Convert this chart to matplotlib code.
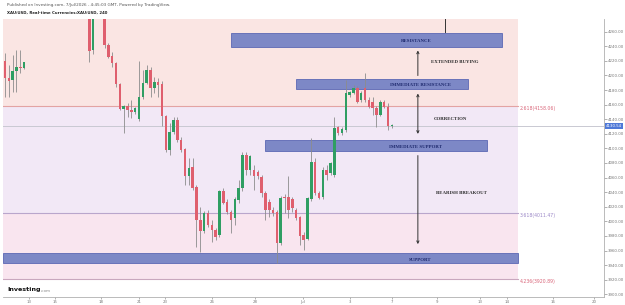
import matplotlib.pyplot as plt
from matplotlib.patches import Rectangle

# XAU/USD 4h candles (x = bar number on the chart)
bar_idx = [0, 1, 2, 3, 4, 5, 22, 23] + list(range(26, 102))
opens = [4220, 4197, 4194, 4206, 4212, 4210, 4295, 4235,
         4290, 4242, 4227, 4217, 4188, 4154, 4158, 4153, 4150, 4140,
         4170, 4190, 4207, 4183, 4191, 4188, 4144, 4098, 4122, 4139,
         4112, 4099, 4062, 4074, 4047, 4002, 3987, 4011, 3995, 3988,
         3981, 4042, 4027, 4013, 4005, 4029, 4046, 4091, 4070, 4070,
         4068, 4061, 4039, 4027, 4016, 4013, 3970, 4033, 4033, 4031,
         4016, 4006, 3982, 3976, 4030, 4081, 4039, 4033, 4070, 4066,
         4063, 4129, 4121, 4125, 4173, 4176, 4183, 4166, 4183, 4166,
         4163, 4155, 4146, 4164, 4157, 4131]
highs = [4231, 4214, 4228, 4235, 4235, 4219, 4300, 4300,
         4295, 4244, 4232, 4219, 4190, 4160, 4162, 4166, 4157, 4220,
         4207, 4214, 4212, 4198, 4196, 4192, 4146, 4135, 4143, 4143,
         4116, 4101, 4087, 4087, 4050, 4020, 4014, 4016, 4002, 3991,
         4043, 4046, 4030, 4016, 4033, 4057, 4095, 4095, 4091, 4077,
         4070, 4064, 4041, 4030, 4020, 4016, 4035, 4037, 4062, 4034,
         4019, 4008, 3985, 4033, 4114, 4087, 4041, 4075, 4077, 4082,
         4143, 4131, 4130, 4194, 4179, 4187, 4186, 4178, 4203, 4170,
         4170, 4158, 4166, 4166, 4162, 4134]
lows = [4170, 4170, 4177, 4177, 4203, 4209, 4218, 4230,
        4238, 4224, 4212, 4184, 4153, 4121, 4143, 4142, 4147, 4138,
        4168, 4188, 4170, 4176, 4170, 4131, 4095, 4091, 4120, 4109,
        4095, 4050, 4050, 4043, 3965, 3958, 3984, 3992, 3972, 3975,
        3978, 4024, 4010, 3984, 3995, 4025, 4042, 4063, 4063, 4043,
        4058, 4033, 4002, 4006, 4008, 3943, 3968, 4012, 4005, 4013,
        4002, 3968, 3961, 3974, 4028, 4036, 4030, 4030, 4057, 4064,
        4061, 4119, 4119, 4123, 4170, 4174, 4162, 4164, 4164, 4155,
        4146, 4129, 4144, 4155, 4125, 4128]
closes = [4197, 4192, 4206, 4212, 4210, 4218, 4233, 4290,
          4242, 4225, 4217, 4188, 4154, 4158, 4153, 4150, 4156, 4170,
          4190, 4207, 4183, 4191, 4187, 4144, 4098, 4122, 4139, 4112,
          4098, 4062, 4073, 4046, 4002, 3987, 4011, 3995, 3988, 3979,
          4041, 4025, 4013, 4002, 4031, 4046, 4091, 4070, 4089, 4062,
          4062, 4039, 4016, 4016, 4012, 3970, 4032, 4032, 4016, 4019,
          4005, 3980, 3975, 4032, 4081, 4039, 4032, 4070, 4064, 4080,
          4128, 4121, 4127, 4176, 4177, 4183, 4164, 4176, 4166, 4157,
          4155, 4146, 4164, 4157, 4131, 4131]

last_price = 4130.54

# fibonacci levels
fib_ratios = ['2.618', '3.618', '4.236']
fib_prices = [4158.06, 4011.47, 3920.89]

# blue zones: name, low, high, left bar, right bar
zone_names = ['RESISTANCE', 'IMMEDIATE RESISTANCE', 'IMMEDIATE SUPPORT', 'SUPPORT']
zone_low = [4239, 4181.5, 4096.5, 3943]
zone_high = [4258, 4195, 4111.5, 3956.5]
zone_x0 = [59.0, 76.0, 67.9, -0.6]
zone_x1 = [129.8, 120.9, 125.8, 133.9]

move_labels = ['EXTENDED BUYING', 'CORRECTION', 'BEARISH BREAKOUT']
move_price = [4218, 4140, 4039]

tick_prices = list(range(3900, 4261, 20))
date_pos = [6.3, 13.1, 25.1, 35, 41.8, 54, 65.3, 77.8, 90.1, 101, 112.8, 124, 131.1, 143.1, 153.8]
date_lbl = ['13', '15', '18', '21', '23', '26', '28', 'Jul', '3', '7', '9', '13', '14', '16', '20']

fig = plt.figure(figsize=(6.25, 3.05), dpi=100)
ax = fig.add_axes([3 / 625, 8 / 305, 601 / 625, 278 / 305])
ax.set_xlim(-0.52, 156.4)
ax.set_ylim(3896.4, 4277.3)

zone_end = 133.9
ax.fill_between([-0.6, zone_end], fib_prices[0], 4300, color='#fae5e3', lw=0, zorder=0)
ax.fill_between([-0.6, zone_end], fib_prices[1], fib_prices[0], color='#f2e8f6', lw=0, zorder=0)
ax.fill_between([-0.6, zone_end], fib_prices[2], fib_prices[1], color='#f9e5ef', lw=0, zorder=0)
fib_cols = ['#e3a3a3', '#b9a6cc', '#c9a7be']
txt_cols = ['#d9667a', '#9a86c6', '#d9667a']
for r, p, c, tc in zip(fib_ratios, fib_prices, fib_cols, txt_cols):
    ax.plot([-0.6, zone_end], [p, p], color=c, lw=0.8, zorder=1)
    ax.text(zone_end + 0.4, p - 3, '%s(%.2f)' % (r, p), color=tc, fontsize=3.3,
            va='center', ha='left')

ax.axhline(last_price, color='#c9c9d2', lw=0.7, zorder=1)

for x0, x1, lo, hi in zip(zone_x0, zone_x1, zone_low, zone_high):
    ax.add_patch(Rectangle((x0, lo), x1 - x0, hi - lo, facecolor='#7d88c6',
                           edgecolor='#5c68b4', lw=0.6, zorder=2))

# candles
for i, o, h, l, c in zip(bar_idx, opens, highs, lows, closes):
    col = '#2f9e63' if c >= o else '#df5f6e'
    ax.vlines(i, l, h, color='#8c8c8c', lw=0.6, zorder=3)
    ax.bar(i, max(abs(c - o), 0.9), bottom=min(o, c), width=0.66, color=col, lw=0, zorder=4)

zone_txt_x = [107.3, 108.4, 107.3, 108.4]
for n, lo, hi, tx in zip(zone_names, zone_low, zone_high, zone_txt_x):
    ax.text(tx, (lo + hi) / 2 - 2, n, fontsize=3.5, fontweight='bold', color='#1f2a6e',
            family='Liberation Serif', ha='center', va='center', zorder=6)

# arrows
arr = dict(arrowstyle='->', color='#333333', lw=0.7, mutation_scale=4)
ax.annotate('', xy=(107.8, 4238), xytext=(107.8, 4196), arrowprops=arr, zorder=5)
ax.annotate('', xy=(107.8, 4116), xytext=(107.8, 4179),
            arrowprops=dict(arr, arrowstyle='<->'), zorder=5)
ax.annotate('', xy=(107.8, 3965), xytext=(107.8, 4094), arrowprops=arr, zorder=5)
ax.plot([114.9, 114.9], [4259, 4280], color='#333333', lw=0.7, zorder=5)

move_x = [117.5, 116.4, 119.1]
for t, p, mx in zip(move_labels, move_price, move_x):
    ax.text(mx, p, t, fontsize=3.5, fontweight='bold', color='#2b2b2b',
            family='Liberation Serif', ha='center', va='center', zorder=6)

for s in ['top', 'left']:
    ax.spines[s].set_visible(False)
ax.spines['right'].set_color('#b0b0b0')
ax.spines['bottom'].set_color('#b0b0b0')
ax.spines['right'].set_linewidth(0.6)
ax.spines['bottom'].set_linewidth(0.6)
ax.yaxis.tick_right()
ax.set_yticks(tick_prices)
ax.set_yticklabels(['%.2f' % t for t in tick_prices])
ax.tick_params(axis='y', labelsize=2.8, length=2, width=0.4, pad=1, colors='#777777')
ax.set_xticks(date_pos)
ax.set_xticklabels(date_lbl)
ax.tick_params(axis='x', labelsize=2.8, length=1.5, width=0.4, pad=1, colors='#777777')

ax.text(1.003, (last_price - 3896.4) / (4277.3 - 3896.4), '%.2f' % last_price,
        transform=ax.transAxes, fontsize=2.8, color='white', va='center', ha='left',
        bbox=dict(boxstyle='square,pad=0.2', fc='#4f79d8', ec='none'))

fig.text(7 / 625, 1 - 5 / 305, 'Published on Investing.com, 7/Jul/2026 - 4:45:03 GMT, Powered by TradingView.',
         fontsize=2.95, color='#555555', va='center')
fig.text(7 / 625, 1 - 13 / 305, 'XAU/USD, Real-time Currencies:XAU/USD, 240',
         fontsize=2.75, color='#222222', fontweight='bold', va='center')
fig.text(7 / 625, 1 - 290 / 305, 'Investing', fontsize=4.6, fontweight='bold', color='#111111', va='center')
fig.text(41 / 625, 1 - 291 / 305, '.com', fontsize=3.0, color='#888888', va='center')

fig.savefig('out.png', dpi=100)
